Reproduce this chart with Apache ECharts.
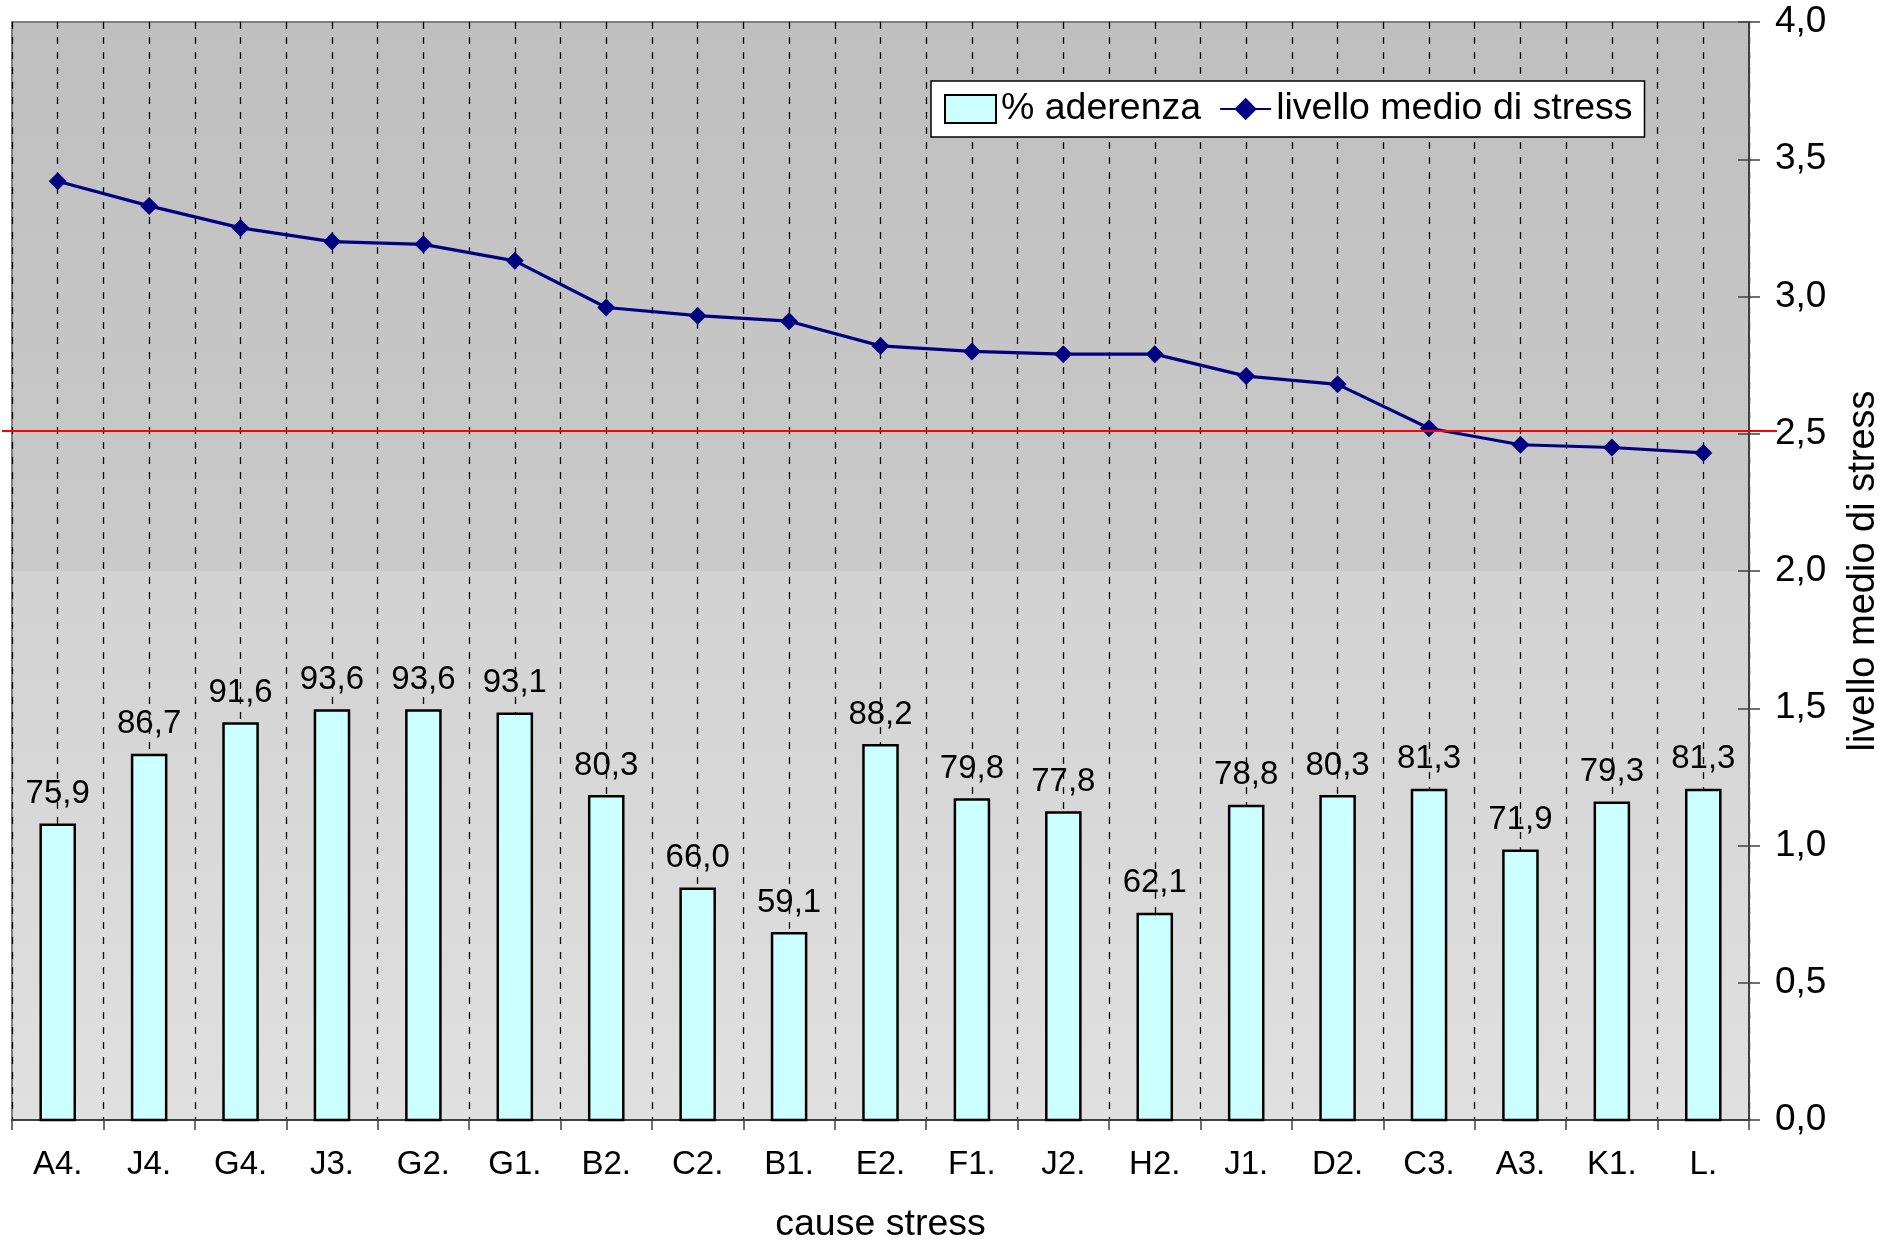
<!DOCTYPE html>
<html><head><meta charset="utf-8">
<script src="https://cdn.jsdelivr.net/npm/echarts@6/dist/echarts.min.js"></script>
<style>html,body{margin:0;padding:0;background:#fff}#c{width:1898px;height:1242px}</style>
</head><body><div id="c"></div>
<script>
const categories = ['A4.','J4.','G4.','J3.','G2.','G1.','B2.','C2.','B1.','E2.','F1.','J2.','H2.','J1.','D2.','C3.','A3.','K1.','L.'];
const aderenza = [75.9,86.7,91.6,93.6,93.6,93.1,80.3,66.0,59.1,88.2,79.8,77.8,62.1,78.8,80.3,81.3,71.9,79.3,81.3];
const stress = [3.42,3.33,3.25,3.20,3.19,3.13,2.96,2.93,2.91,2.82,2.80,2.79,2.79,2.71,2.68,2.52,2.46,2.45,2.43];
const stressAxis = {min: 0, max: 4, interval: 0.5};
const aderenzaAxis = {min: 30, max: 200};
const threshold = 2.51;
const seriesNames = ['% aderenza', 'livello medio di stress'];
const axisNames = {x: 'cause stress', y: 'livello medio di stress'};

const FONT = '"Liberation Sans", Arial, sans-serif';
const fmt = v => Number(v).toFixed(1).replace('.', ',');

const chart = echarts.init(document.getElementById('c'), null, {renderer: 'canvas'});
const option = {
  animation: false,
  backgroundColor: '#ffffff',
  textStyle: {fontFamily: FONT, color: '#000'},
  grid: {
    left: 12, right: 149, top: 22, bottom: 122, show: true,
    containLabel: false, outerBoundsMode: 'none',
    borderColor: '#808080', borderWidth: 2,
    backgroundColor: {type: 'linear', x: 0, y: 0, x2: 0, y2: 1, colorStops: [
      {offset: 0, color: '#bfbfbf'}, {offset: 0.5, color: '#cacaca'},
      {offset: 0.5, color: '#d2d2d2'}, {offset: 1, color: '#e0e0e0'}]}
  },
  legend: {
    left: 931, top: 81, orient: 'horizontal',
    backgroundColor: '#ffffff', borderColor: '#000', borderWidth: 1.5,
    padding: [9, 12, 9, 13], itemGap: 18, itemWidth: 51, itemHeight: 28,
    textStyle: {fontSize: 37.5, fontFamily: FONT, color: '#000'},
    data: [{name: seriesNames[0], icon: 'rect'}, {name: seriesNames[1]}]
  },
  xAxis: [{
    type: 'category', data: categories, boundaryGap: true, position: 'bottom',
    axisLine: {show: true, lineStyle: {color: '#404040', width: 2}},
    axisTick: {show: true, inside: false, length: 10, lineStyle: {color: '#404040', width: 1.5}},
    axisLabel: {fontSize: 33, color: '#000', margin: 28, fontFamily: FONT},
    splitLine: {show: false},
    name: axisNames.x, nameLocation: 'middle', nameGap: 86,
    nameTextStyle: {fontSize: 37.5, color: '#000', fontFamily: FONT}
  }, {
    type: 'value', min: 0, max: categories.length, interval: 0.5, position: 'top',
    axisLine: {show: false}, axisTick: {show: false}, axisLabel: {show: false},
    splitLine: {show: true, lineStyle: {color: '#000', width: 1.3, type: [7, 8]}}
  }],
  yAxis: [{
    type: 'value', min: aderenzaAxis.min, max: aderenzaAxis.max, show: false,
    splitLine: {show: false}
  }, {
    type: 'value', position: 'right', min: stressAxis.min, max: stressAxis.max, interval: stressAxis.interval,
    axisLine: {show: true, lineStyle: {color: '#404040', width: 2}},
    axisTick: {show: true, inside: false, length: 11, lineStyle: {color: '#404040', width: 1.5}},
    axisLabel: {fontSize: 37, color: '#000', margin: 26, formatter: fmt, fontFamily: FONT},
    splitLine: {show: false},
    name: axisNames.y, nameLocation: 'middle', nameRotate: 90, nameGap: 96,
    nameTextStyle: {fontSize: 38, color: '#000', fontFamily: FONT}
  }, {
    type: 'value', position: 'right', min: stressAxis.min, max: stressAxis.max, interval: stressAxis.interval,
    axisLine: {show: false},
    axisTick: {show: true, inside: true, length: 11, lineStyle: {color: '#404040', width: 1.5}},
    axisLabel: {show: false}, splitLine: {show: false}
  }],
  series: [{
    name: seriesNames[0], type: 'bar', xAxisIndex: 0, yAxisIndex: 0, data: aderenza,
    barWidth: '40%',
    itemStyle: {color: '#ccffff', borderColor: '#000', borderWidth: 2.5},
    label: {show: true, position: 'top', distance: 13, fontSize: 33, color: '#000', fontFamily: FONT,
      formatter: p => fmt(p.value)},
    z: 3
  }, {
    name: seriesNames[1], type: 'line', xAxisIndex: 0, yAxisIndex: 1, data: stress,
    symbol: 'diamond', symbolSize: 18,
    lineStyle: {color: '#000080', width: 3.2},
    itemStyle: {color: '#000080'},
    z: 4
  }]
};
chart.setOption(option);

// threshold line extending across the whole chart width
const yPix = chart.convertToPixel({yAxisIndex: 1}, threshold);
chart.setOption({graphic: [{
  type: 'line', z: 100, silent: true,
  shape: {x1: 2, y1: yPix, x2: 1777, y2: yPix},
  style: {stroke: '#ff0000', lineWidth: 2}
}]});
</script>
</body></html>
